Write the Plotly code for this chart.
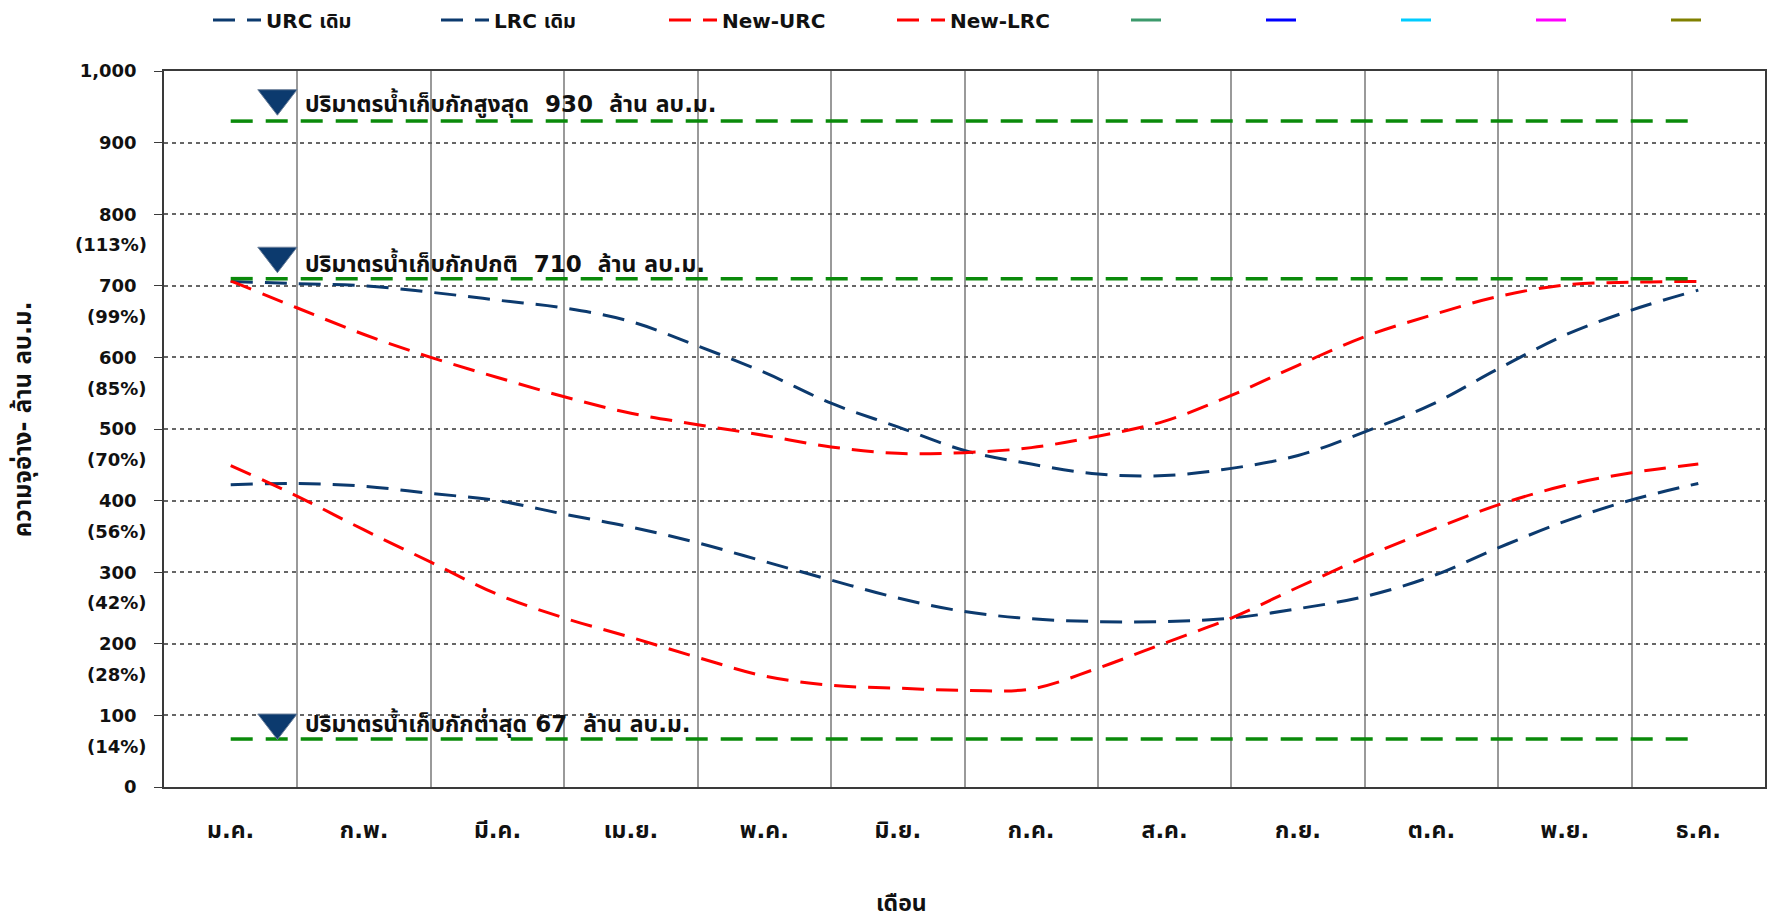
import plotly.graph_objects as go

# ---------------- data ----------------
months = ["ม.ค.", "ก.พ.", "มี.ค.", "เม.ย.", "พ.ค.", "มิ.ย.",
          "ก.ค.", "ส.ค.", "ก.ย.", "ต.ค.", "พ.ย.", "ธ.ค."]
month_idx = [0, 1, 2, 3, 4, 5, 6, 7, 8, 9, 10, 11]
month_bounds = [0.5, 1.5, 2.5, 3.5, 4.5, 5.5, 6.5, 7.5, 8.5, 9.5, 10.5]

# curve sample positions (month index, half-month steps; 0 = mid Jan)
pos = [0, 0.5, 1, 1.5, 2, 2.5, 3, 3.5, 4, 4.5, 5, 5.5,
       6, 6.5, 7, 7.5, 8, 8.5, 9, 9.5, 10, 10.5, 11]

urc_old = [706, 703, 700, 691, 680, 669, 650, 616, 579, 536, 503, 470,
           451, 437, 435, 445, 463, 496, 534, 584, 631, 666, 694]
lrc_old = [422, 424, 420, 410, 400, 381, 363, 341, 315, 289, 264, 245,
           235, 231, 231, 236, 249, 266, 294, 334, 371, 401, 424]
new_urc = [707, 669, 632, 600, 572, 545, 522, 506, 491, 475, 466, 467,
           474, 490, 511, 547, 589, 629, 659, 685, 701, 705, 706]
new_lrc = [449, 406, 359, 314, 269, 236, 209, 181, 155, 142, 138, 135,
           137, 166, 201, 236, 279, 321, 359, 394, 421, 439, 451]

# reference storage levels (million m3)
levels = [930, 710, 67]
level_labels = ["ปริมาตรน้ำเก็บกักสูงสุด\u00a0\u00a0930\u00a0\u00a0ล้าน ลบ.ม.",
                "ปริมาตรน้ำเก็บกักปกติ\u00a0\u00a0710\u00a0\u00a0ล้าน ลบ.ม.",
                "ปริมาตรน้ำเก็บกักต่ำสุด 67\u00a0\u00a0ล้าน ลบ.ม."]

y_ticks = [0, 100, 200, 300, 400, 500, 600, 700, 800, 900, 1000]
pct_ticks = [800, 700, 600, 500, 400, 300, 200, 100]
pct_labels = ["(113%)", "(99%)", "(85%)", "(70%)", "(56%)", "(42%)", "(28%)", "(14%)"]

extra_colors = ["#3c9a6c", "#0000ff", "#00ccff", "#ff00ff", "#808000"]

# ---------------- styles ----------------
NAVY = "#0c3a6e"
RED = "#ff0000"
GREEN = "#0a8a0a"
FONT = "'DejaVu Sans', Waree, Tahoma, 'Noto Sans Thai', sans-serif"
TICKFONT = dict(family=FONT, size=18, color="#111111", weight="bold")
THAIFONT = dict(family=FONT, size=23, color="#111111", weight="bold")

W, H = 1767, 913          # page adds an 8px body margin on top/left
L, R, T, B = 156, 8, 63, 134

fig = go.Figure()

def curve(y, name, color):
    fig.add_trace(go.Scatter(
        x=pos, y=y, name=name, mode="lines",
        line=dict(color=color, width=3, dash="22px,12px", shape="spline"),
        legend="legend", hoverinfo="skip"))

curve(urc_old, "<b>URC เดิม</b>", NAVY)
curve(lrc_old, "<b>LRC เดิม</b>", NAVY)
curve(new_urc, "<b>New-URC</b>", RED)
curve(new_lrc, "<b>New-LRC</b>", RED)

for c in extra_colors:
    fig.add_trace(go.Scatter(x=[None], y=[None], name=" ", mode="lines",
                             line=dict(color=c, width=3), legend="legend2"))

# level lines
for lv in levels:
    fig.add_trace(go.Scatter(
        x=[month_idx[0], month_idx[-1]], y=[lv, lv], mode="lines",
        line=dict(color=GREEN, width=3.5, dash="22px,13px"),
        showlegend=False, hoverinfo="skip"))

# triangles marking levels (marker centre sits above the tip)
tri_x = 0.35
tri_off = [32, 32, 23]
fig.add_trace(go.Scatter(
    x=[tri_x] * 3, y=[lv + o for lv, o in zip(levels, tri_off)], mode="markers",
    marker=dict(symbol="triangle-down", size=34, color=NAVY,
                line=dict(color="#6b7f99", width=1)),
    showlegend=False, hoverinfo="skip"))

annotations = []
txt_off = [26, 22, 22]
for lv, txt, o in zip(levels, level_labels, txt_off):
    annotations.append(dict(x=0.54, y=lv + o, xref="x", yref="y", text="<b>" + txt + "</b>",
                            showarrow=False, xanchor="left", yanchor="middle",
                            font=THAIFONT))

for v, t in zip(pct_ticks, pct_labels):
    annotations.append(dict(x=0, y=v - 43, xref="paper", yref="y", text="<b>" + t + "</b>",
                            showarrow=False, xanchor="right", yanchor="middle", xshift=-15,
                            font=TICKFONT))

# axis titles (paper coords: plot area spans x 164..1767 px, y 71..787 px on the page)
annotations.append(dict(x=(23 - 164) / 1603, y=(787 - 419) / 716, xref="paper", yref="paper",
                        text="<b>ความจุอ่าง- ล้าน ลบ.ม.</b>", textangle=-90,
                        showarrow=False, xanchor="center", yanchor="middle",
                        font=dict(family=FONT, size=24, color="#111111", weight="bold")))
annotations.append(dict(x=(902 - 164) / 1603, y=(787 - 903) / 716, xref="paper", yref="paper",
                        text="<b>เดือน</b>", showarrow=False,
                        xanchor="center", yanchor="middle",
                        font=dict(family=FONT, size=23, color="#111111", weight="bold")))

LEGFONT = dict(family=FONT, size=20, color="#111111", weight="bold")
fig.update_layout(
    width=W, height=H,
    margin=dict(l=L, r=R, t=T, b=B),
    paper_bgcolor="white", plot_bgcolor="white",
    font=TICKFONT,
    showlegend=True,
    legend=dict(orientation="h", xref="container", yref="container",
                x=(208 - 8) / W, y=1 - (20 - 8) / H, xanchor="left", yanchor="middle",
                entrywidthmode="pixels", entrywidth=165, itemwidth=48,
                font=LEGFONT, bgcolor="rgba(0,0,0,0)", traceorder="normal"),
    legend2=dict(orientation="h", xref="container", yref="container",
                 x=(1126 - 8) / W, y=1 - (20 - 8) / H, xanchor="left", yanchor="middle",
                 entrywidthmode="pixels", entrywidth=90, itemwidth=30,
                 font=LEGFONT, bgcolor="rgba(0,0,0,0)"),
    annotations=annotations,
    xaxis=dict(range=[-0.5, 11.5], tickmode="array", tickvals=month_idx,
               ticktext=["<b>" + m + "</b>" for m in months],
               showgrid=False, zeroline=False, ticks="",
               ticklabelstandoff=22,
               showline=True, linecolor="#3a3a3a", linewidth=1.5, mirror=True,
               minor=dict(tickmode="array", tickvals=month_bounds,
                          showgrid=True, gridcolor="#9a9a9a", gridwidth=1.5, ticks=""),
               tickfont=THAIFONT),
    yaxis=dict(range=[0, 1000], tickmode="array", tickvals=y_ticks,
               tickformat=",d", showgrid=True, gridcolor="#666666", griddash="4px,4px",
               gridwidth=1.5, zeroline=False, ticks="outside", ticklen=8,
               tickcolor="#3a3a3a", ticklabelstandoff=14,
               showline=True, linecolor="#3a3a3a", linewidth=1.5, mirror=True,
               tickfont=TICKFONT),
)

fig.write_html("out.html")
